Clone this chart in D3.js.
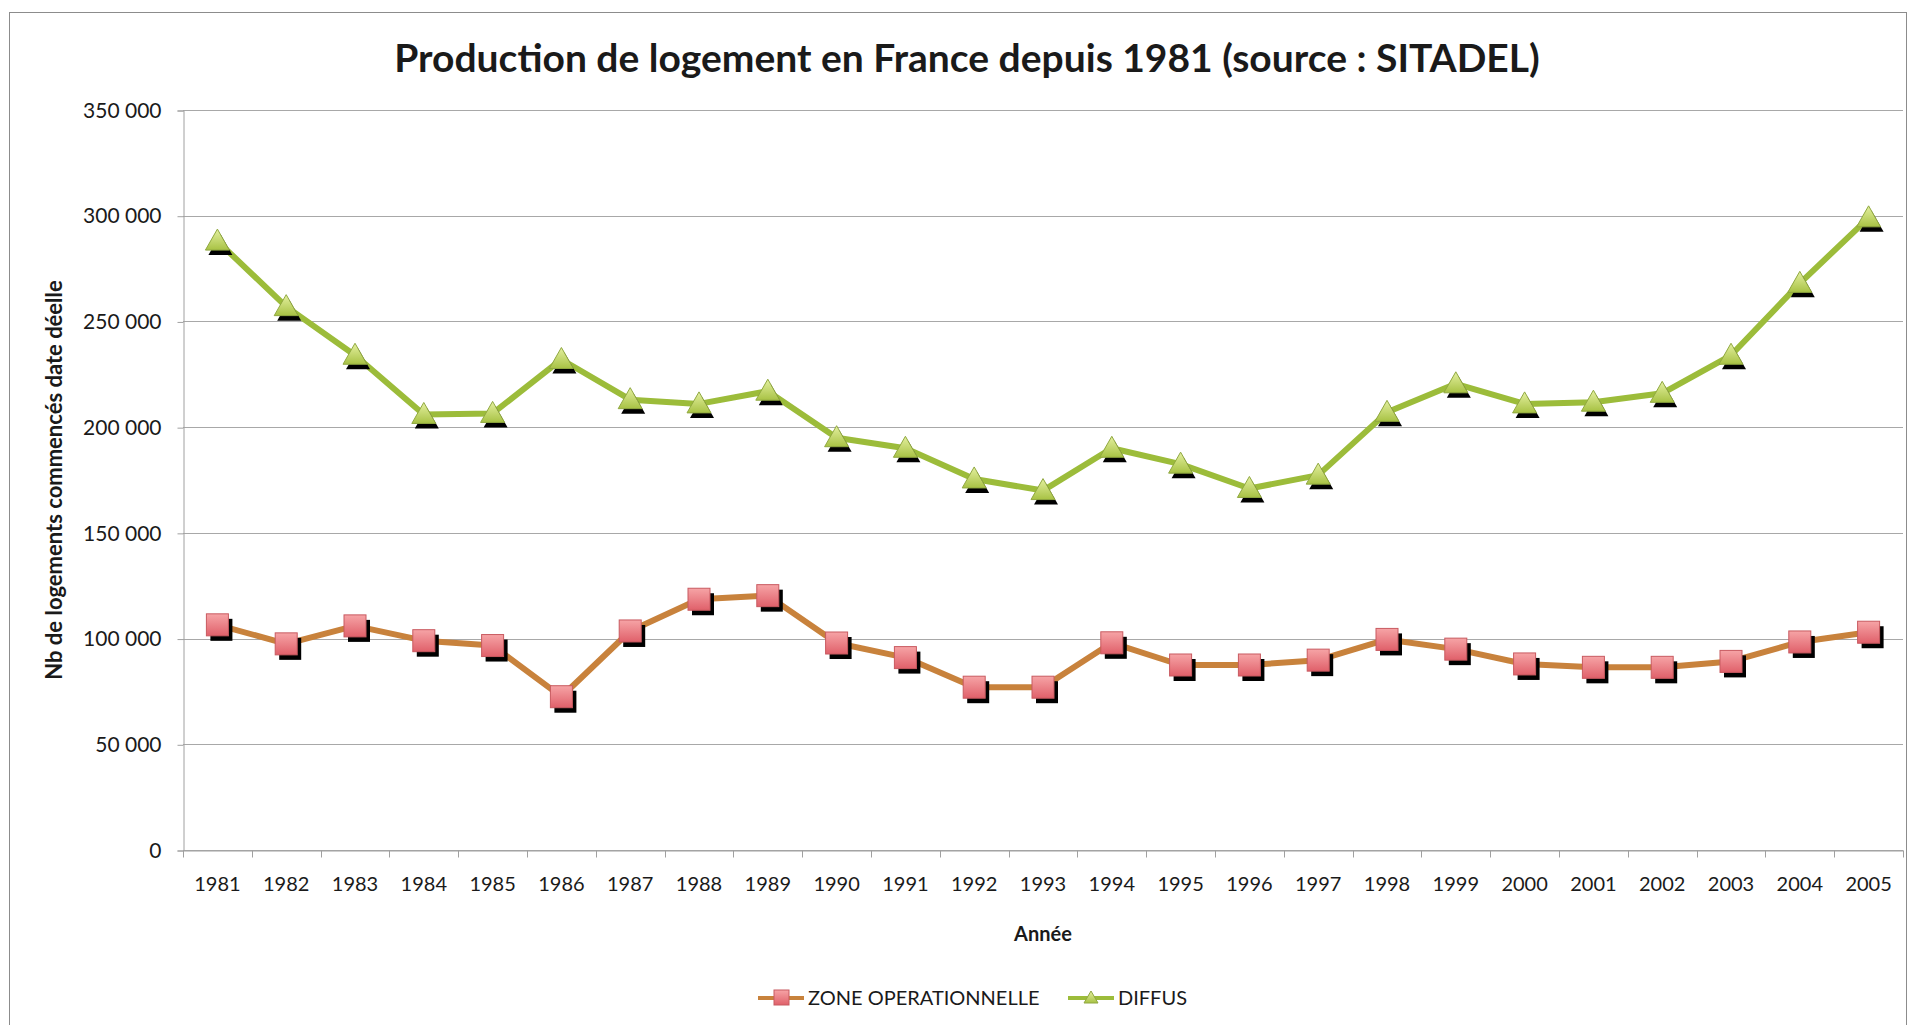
<!DOCTYPE html>
<html>
<head>
<meta charset="utf-8">
<script src="https://cdn.jsdelivr.net/npm/d3@7"></script>
<style>
  body { margin: 0; background: #fff; }
  text { font-family: Lato, "Open Sans", sans-serif; fill: #1a1a1a; }
</style>
</head>
<body>
<div id="chart"></div>
<script>
/* DATA */
const years = d3.range(1981, 2006).map(String);
const zoneOperationnelle = [106500, 97500, 106000, 99000, 96700, 72500, 103600, 118600, 120300, 97900,
  91000, 77000, 77000, 98000, 87500, 87500, 89800, 99600, 95000, 88000,
  86400, 86400, 89200, 98400, 103000];
const diffus = [288000, 257000, 234000, 206000, 206500, 232000, 213000, 211000, 217000, 195000,
  190000, 175500, 170000, 190000, 182500, 171000, 177300, 207000, 220500, 211000,
  211800, 216000, 234000, 268000, 299000];
const yTicks = [0, 50000, 100000, 150000, 200000, 250000, 300000, 350000];

const width = 1910, height = 1025;
const margin = { top: 110, right: 7, bottom: 175, left: 183 };

const svg = d3.select("#chart").append("svg")
  .attr("width", width)
  .attr("height", height);

// gradients for markers
const defs = svg.append("defs");
const gSq = defs.append("linearGradient").attr("id", "gradSq").attr("x1", 0).attr("y1", 0).attr("x2", 0).attr("y2", 1);
gSq.append("stop").attr("offset", "0%").attr("stop-color", "#f6a4a6");
gSq.append("stop").attr("offset", "100%").attr("stop-color", "#e0606a");
const gTri = defs.append("linearGradient").attr("id", "gradTri").attr("x1", 0).attr("y1", 0).attr("x2", 0).attr("y2", 1);
gTri.append("stop").attr("offset", "0%").attr("stop-color", "#e4f0a0");
gTri.append("stop").attr("offset", "100%").attr("stop-color", "#a8c244");

// chart frame
svg.append("rect")
  .attr("x", 9.5).attr("y", 12.5)
  .attr("width", 1897).attr("height", 1030)
  .attr("fill", "none")
  .attr("stroke", "#8c8c8c");

/* SCALES */
const xScale = d3.scaleBand()
  .domain(years)
  .range([margin.left, width - margin.right])
  .padding(0);

const yScale = d3.scaleLinear()
  .domain([0, 350000])
  .range([height - margin.bottom, margin.top]);

const fmt = d => d3.format(",")(d).replace(/,/g, " ");

/* GRID */
svg.append("g")
  .selectAll("line")
  .data(yTicks)
  .join("line")
  .attr("x1", margin.left)
  .attr("x2", width - margin.right)
  .attr("y1", d => Math.round(yScale(d)) + 0.5)
  .attr("y2", d => Math.round(yScale(d)) + 0.5)
  .attr("stroke", "#a8a8a8")
  .attr("stroke-width", 1.2);

/* AXES */
const yAxis = svg.append("g")
  .attr("transform", `translate(${margin.left + 0.5},0.5)`)
  .call(d3.axisLeft(yScale).tickValues(yTicks).tickFormat(fmt).tickSize(6).tickPadding(16));
yAxis.select(".domain").attr("stroke", "#a0a0a0");
yAxis.selectAll(".tick line").attr("stroke", "#a0a0a0");
yAxis.selectAll(".tick text").style("font-size", "21px").attr("fill", "#1a1a1a");

const xAxis = svg.append("g")
  .attr("transform", `translate(0,${Math.round(yScale(0)) + 0.5})`)
  .call(d3.axisBottom(xScale).tickSize(0).tickPadding(26));
xAxis.select(".domain").attr("stroke", "#a0a0a0");
xAxis.selectAll(".tick text").style("font-size", "20px").attr("fill", "#1a1a1a");

// tick marks between categories
xAxis.append("g")
  .selectAll("line")
  .data(years.concat(["end"]))
  .join("line")
  .attr("x1", (d, i) => Math.round(margin.left + i * xScale.bandwidth()) + 0.5)
  .attr("x2", (d, i) => Math.round(margin.left + i * xScale.bandwidth()) + 0.5)
  .attr("y1", 0)
  .attr("y2", 7)
  .attr("stroke", "#a0a0a0");

/* TITLES */
svg.append("text")
  .attr("x", 967)
  .attr("y", 72)
  .attr("text-anchor", "middle")
  .style("font-size", "39px")
  .style("font-weight", "bold")
  .text("Production de logement en France depuis 1981 (source : SITADEL)");

svg.append("text")
  .attr("x", (margin.left + width - margin.right) / 2)
  .attr("y", 941)
  .attr("text-anchor", "middle")
  .style("font-size", "20px")
  .style("font-weight", "bold")
  .text("Année");

svg.append("text")
  .attr("transform", `translate(62,${(yScale(0) + yScale(350000)) / 2}) rotate(-90)`)
  .attr("text-anchor", "middle")
  .style("font-size", "22px")
  .style("font-weight", "bold")
  .text("Nb de logements commencés date déelle");

/* SERIES */
const cx = d => xScale(d) + xScale.bandwidth() / 2;
const line = d3.line()
  .x(d => cx(d.year))
  .y(d => yScale(d.value));

const zoneData = years.map((y, i) => ({ year: y, value: zoneOperationnelle[i] }));
const diffusData = years.map((y, i) => ({ year: y, value: diffus[i] }));

const sq = 22;
const triPath = "M0,-12L12,9L-12,9Z";

// zone operationnelle
svg.append("path")
  .datum(zoneData)
  .attr("d", line)
  .attr("fill", "none")
  .attr("stroke", "#c8823c")
  .attr("stroke-width", 6)
  .attr("stroke-linejoin", "round");

const zoneMarks = svg.append("g")
  .selectAll("g")
  .data(zoneData)
  .join("g")
  .attr("transform", d => `translate(${cx(d.year)},${yScale(d.value)})`);
zoneMarks.append("rect")
  .attr("x", -sq / 2 + 4).attr("y", -sq / 2 + 5)
  .attr("width", sq).attr("height", sq)
  .attr("fill", "#000");
zoneMarks.append("rect")
  .attr("x", -sq / 2).attr("y", -sq / 2)
  .attr("width", sq).attr("height", sq)
  .attr("fill", "url(#gradSq)")
  .attr("stroke", "#c85a60")
  .attr("stroke-width", 1);

// diffus
svg.append("path")
  .datum(diffusData)
  .attr("d", line)
  .attr("fill", "none")
  .attr("stroke", "#9cbc3a")
  .attr("stroke-width", 6)
  .attr("stroke-linejoin", "round");

const diffusMarks = svg.append("g")
  .selectAll("g")
  .data(diffusData)
  .join("g")
  .attr("transform", d => `translate(${cx(d.year)},${yScale(d.value)})`);
diffusMarks.append("path")
  .attr("d", triPath)
  .attr("transform", "translate(3,5)")
  .attr("fill", "#000");
diffusMarks.append("path")
  .attr("d", triPath)
  .attr("fill", "url(#gradTri)")
  .attr("stroke", "#90a840")
  .attr("stroke-width", 1);

/* LEGEND */
const legend = svg.append("g").attr("transform", "translate(0,998)");
const items = [
  { label: "ZONE OPERATIONNELLE", x: 758, color: "#c8823c", type: "square" },
  { label: "DIFFUS", x: 1068, color: "#9cbc3a", type: "triangle" }
];
const li = legend.selectAll("g").data(items).join("g")
  .attr("transform", d => `translate(${d.x},0)`);
li.append("line")
  .attr("x1", 0).attr("x2", 46)
  .attr("stroke", d => d.color)
  .attr("stroke-width", 4);
li.filter(d => d.type === "square").append("rect")
  .attr("x", 16).attr("y", -8).attr("width", 15).attr("height", 15)
  .attr("fill", "url(#gradSq)").attr("stroke", "#c85a60");
li.filter(d => d.type === "triangle").append("path")
  .attr("d", "M23,-7L30,5L16,5Z")
  .attr("fill", "url(#gradTri)").attr("stroke", "#90a840");
li.append("text")
  .attr("x", 50)
  .attr("y", 7)
  .style("font-size", "20px")
  .text(d => d.label);
</script>
</body>
</html>
